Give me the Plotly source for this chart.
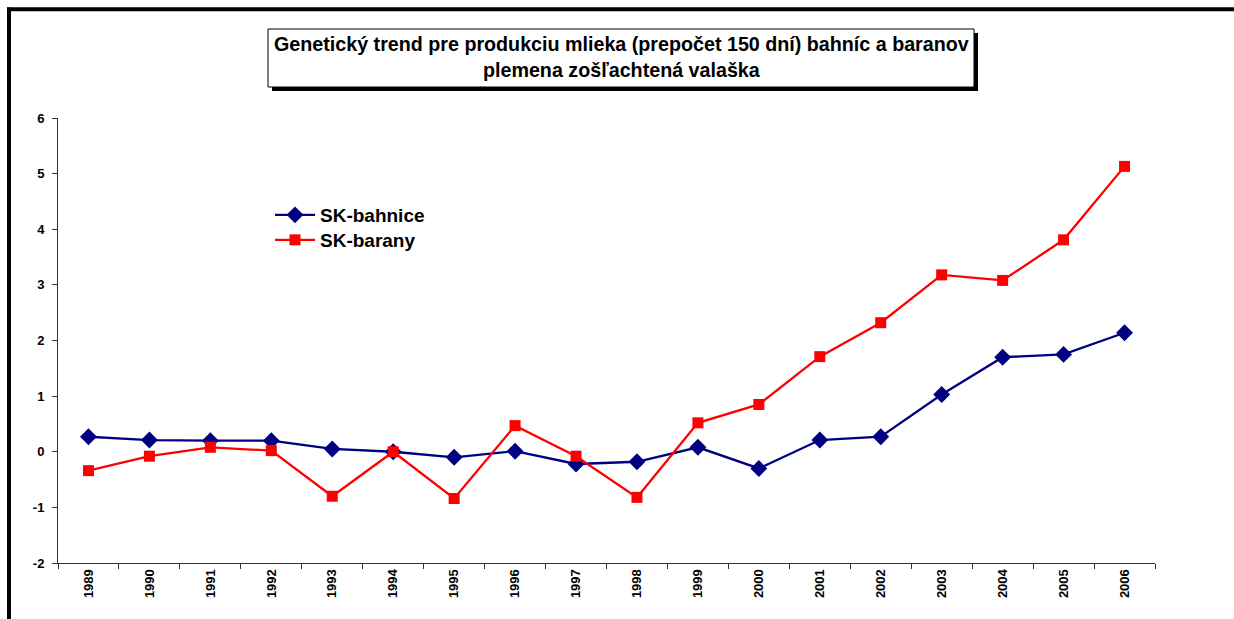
import plotly.graph_objects as go

# Genetic trend for milk production (150-day basis), ewes and rams
years = [str(y) for y in range(1989, 2007)]
bahnice = [0.27, 0.21, 0.20, 0.20, 0.05, 0.00, -0.10, 0.01, -0.22, -0.18,
           0.08, -0.30, 0.21, 0.27, 1.03, 1.70, 1.75, 2.14]
barany = [-0.34, -0.08, 0.08, 0.02, -0.80, 0.00, -0.84, 0.47, -0.08, -0.82,
          0.52, 0.85, 1.71, 2.32, 3.18, 3.08, 3.81, 5.13]
y_ticks = [-2, -1, 0, 1, 2, 3, 4, 5, 6]
y_ticktext = ["-2", "-1", "0", "1", "2", "3", "4", "5", "6"]

W, H = 1234, 619
L, R, T, B = 58, 79, 118, 56
PW, PH = W - L - R, H - T - B
FONT = "Liberation Sans, Arial"


def px(x):
    return (x - L) / PW


def py(y):
    return (H - B - y) / PH


fig = go.Figure()
fig.add_trace(go.Scatter(
    x=years, y=bahnice, name="SK-bahnice", mode="lines+markers",
    line=dict(color="#000080", width=2.3),
    marker=dict(symbol="diamond", size=13, color="#000080"),
    legend="legend",
))
fig.add_trace(go.Scatter(
    x=years, y=barany, name="SK-barany", mode="lines+markers",
    line=dict(color="#ff0000", width=2.3),
    marker=dict(symbol="square", size=11, color="#ff0000"),
    legend="legend2",
))

shapes = [
    # outer frame (top and left edges)
    dict(type="line", xref="paper", yref="paper", x0=px(7), x1=px(W + 5),
         y0=py(9.3), y1=py(9.3), line=dict(color="black", width=4)),
    dict(type="line", xref="paper", yref="paper", x0=px(9), x1=px(9),
         y0=py(7.5), y1=py(H + 5), line=dict(color="black", width=4)),
    # title box with drop shadow
    dict(type="rect", xref="paper", yref="paper", x0=px(272), x1=px(978),
         y0=py(91), y1=py(33), fillcolor="black", line=dict(width=0)),
    dict(type="rect", xref="paper", yref="paper", x0=px(268), x1=px(974),
         y0=py(87), y1=py(29), fillcolor="white",
         line=dict(color="black", width=1)),
]

annotations = [
    dict(xref="paper", yref="paper", x=px(621), y=py(57.5), showarrow=False,
         text="Genetický trend pre produkciu mlieka (prepočet 150 dní) bahníc a baranov"
              "<br>plemena zošľachtená valaška",
         font=dict(family=FONT, size=19.7, color="black", weight="bold"),
         align="center", xanchor="center", yanchor="middle"),
]

tickfont = dict(family=FONT, size=13, color="black", weight="bold")
legfont = dict(family=FONT, size=19, color="black", weight="bold")

fig.update_layout(
    width=W, height=H,
    margin=dict(l=L, r=R, t=T, b=B, autoexpand=False),
    paper_bgcolor="white", plot_bgcolor="white",
    showlegend=True,
    legend=dict(x=px(270), y=py(196), xanchor="left", yanchor="top",
                bgcolor="rgba(0,0,0,0)", itemwidth=40, font=legfont),
    legend2=dict(x=px(270), y=py(221), xanchor="left", yanchor="top",
                 bgcolor="rgba(0,0,0,0)", itemwidth=40, font=legfont),
    shapes=shapes,
    annotations=annotations,
    xaxis=dict(
        type="category", range=[-0.5, 17.5], tickson="boundaries",
        ticks="outside", ticklen=5, tickcolor="#333", tickwidth=1,
        showline=True, linecolor="#333", linewidth=1, showgrid=False,
        tickangle=-90, tickfont=tickfont,
    ),
    yaxis=dict(
        range=[-2, 6], tickvals=y_ticks, ticktext=y_ticktext,
        ticks="outside", ticklen=5, ticklabelstandoff=5,
        tickcolor="#333", tickwidth=1, showline=True, linecolor="#333",
        linewidth=1, showgrid=False, zeroline=False, tickfont=tickfont,
    ),
)

fig.write_html("out.html")
